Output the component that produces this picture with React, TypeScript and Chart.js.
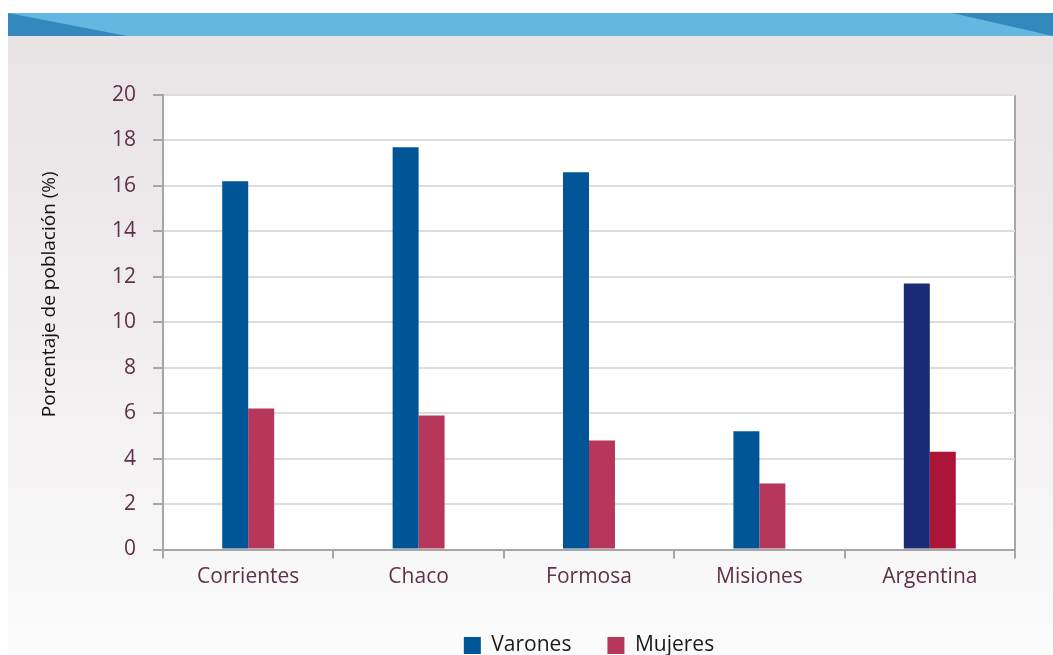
import React, { useEffect, useRef } from "react";
import { Chart, registerables } from "chart.js";

Chart.register(...registerables);

const categories = ["Corrientes", "Chaco", "Formosa", "Misiones", "Argentina"];
const varones = [16.2, 17.7, 16.6, 5.2, 11.7];
const mujeres = [6.2, 5.9, 4.8, 2.9, 4.3];
const seriesLabels = ["Varones", "Mujeres"];
const yTitle = "Porcentaje de población (%)";
const yMin = 0;
const yMax = 20;
const yStep = 2;

const W = 1053;
const H = 666;
const FONT = "'Open Sans', 'Noto Sans', sans-serif";
const PLUM = "#5f3049";
const AXIS_GREY = "#a6a6a6";
const GRID_GREY = "#dcdcdc";

const backgroundPlugin = {
  id: "bgPanel",
  beforeDraw(chart: any) {
    const ctx = chart.ctx;
    const ca = chart.chartArea;
    ctx.save();
    ctx.fillStyle = "#ffffff";
    ctx.fillRect(0, 0, W, H);
    const g = ctx.createLinearGradient(0, 36, 0, 650);
    g.addColorStop(0, "#e8e3e5");
    g.addColorStop(0.5, "#f1eef0");
    g.addColorStop(1, "#fbfbfb");
    ctx.fillStyle = g;
    ctx.fillRect(8, 36, W - 8, H - 36);
    // banner
    ctx.fillStyle = "#63b7e1";
    ctx.fillRect(8, 13, W - 8, 23);
    ctx.fillStyle = "#3389bb";
    ctx.beginPath();
    ctx.moveTo(8, 13);
    ctx.lineTo(127, 36);
    ctx.lineTo(8, 36);
    ctx.closePath();
    ctx.fill();
    ctx.beginPath();
    ctx.moveTo(952, 13);
    ctx.lineTo(W, 13);
    ctx.lineTo(W, 36);
    ctx.closePath();
    ctx.fill();
    // plot area
    ctx.fillStyle = "#ffffff";
    ctx.fillRect(ca.left, ca.top, ca.right - ca.left, ca.bottom - ca.top);
    ctx.restore();
  },
  afterDraw(chart: any) {
    const ctx = chart.ctx;
    const ca = chart.chartArea;
    ctx.save();
    ctx.translate(50, (ca.top + ca.bottom) / 2 - 28);
    ctx.rotate(-Math.PI / 2);
    ctx.fillStyle = "#111111";
    ctx.font = `19px ${FONT}`;
    ctx.textAlign = "center";
    ctx.textBaseline = "middle";
    ctx.fillText(yTitle, 0, 0);
    ctx.restore();
  },
};

export default function App() {
  const ref = useRef<HTMLCanvasElement | null>(null);
  useEffect(() => {
    if (!ref.current) return;
    const last = categories.length - 1;
    const chart = new Chart(ref.current, {
      type: "bar",
      data: {
        labels: categories,
        datasets: [
          {
            label: seriesLabels[0],
            data: varones,
            backgroundColor: (c: any) => (c.dataIndex === last ? "#1b2a74" : "#005596"),
            categoryPercentage: 0.305,
            barPercentage: 1,
          },
          {
            label: seriesLabels[1],
            data: mujeres,
            backgroundColor: (c: any) => (c.dataIndex === last ? "#ab1538" : "#b7375a"),
            categoryPercentage: 0.305,
            barPercentage: 1,
          },
        ],
      },
      options: {
        responsive: false,
        animation: false,
        devicePixelRatio: 1,
        layout: { padding: { top: 95, right: 38, left: 0, bottom: 0 } },
        plugins: {
          legend: {
            position: "bottom",
            fullSize: false,
            labels: {
              boxWidth: 17,
              boxHeight: 17,
              padding: 36,
              color: "#1a1a1a",
              font: { family: FONT, size: 21 },
            },
          },
          tooltip: { enabled: false },
        },
        scales: {
          x: {
            afterFit: (s: any) => {
              s.height = 49.5;
            },
            grid: {
              offset: true,
              drawOnChartArea: true,
              color: (c: any) => (c.type === "tick" ? "rgba(0,0,0,0)" : AXIS_GREY),
              tickColor: AXIS_GREY,
              lineWidth: 2,
              tickWidth: 2,
              tickLength: 9,
            },
            border: { display: true, color: AXIS_GREY, width: 2 },
            ticks: {
              color: PLUM,
              padding: 6,
              font: { family: FONT, size: 21 },
            },
          },
          y: {
            min: yMin,
            max: yMax,
            afterFit: (s: any) => {
              s.width = 163;
            },
            grid: {
              color: GRID_GREY,
              tickColor: AXIS_GREY,
              lineWidth: 2,
              tickWidth: 2,
              tickLength: 10,
            },
            border: { display: true, color: AXIS_GREY, width: 2 },
            ticks: {
              stepSize: yStep,
              color: PLUM,
              padding: 17,
              font: { family: FONT, size: 21 },
            },
          },
        },
      },
      plugins: [backgroundPlugin],
    } as any);
    return () => chart.destroy();
  }, []);
  return (
    <div
      style={{
        position: "fixed",
        left: 0,
        top: 0,
        width: W,
        height: 655,
        overflow: "hidden",
      }}
    >
      <canvas ref={ref} width={W} height={H} style={{ display: "block", width: W, height: H }} />
    </div>
  );
}
